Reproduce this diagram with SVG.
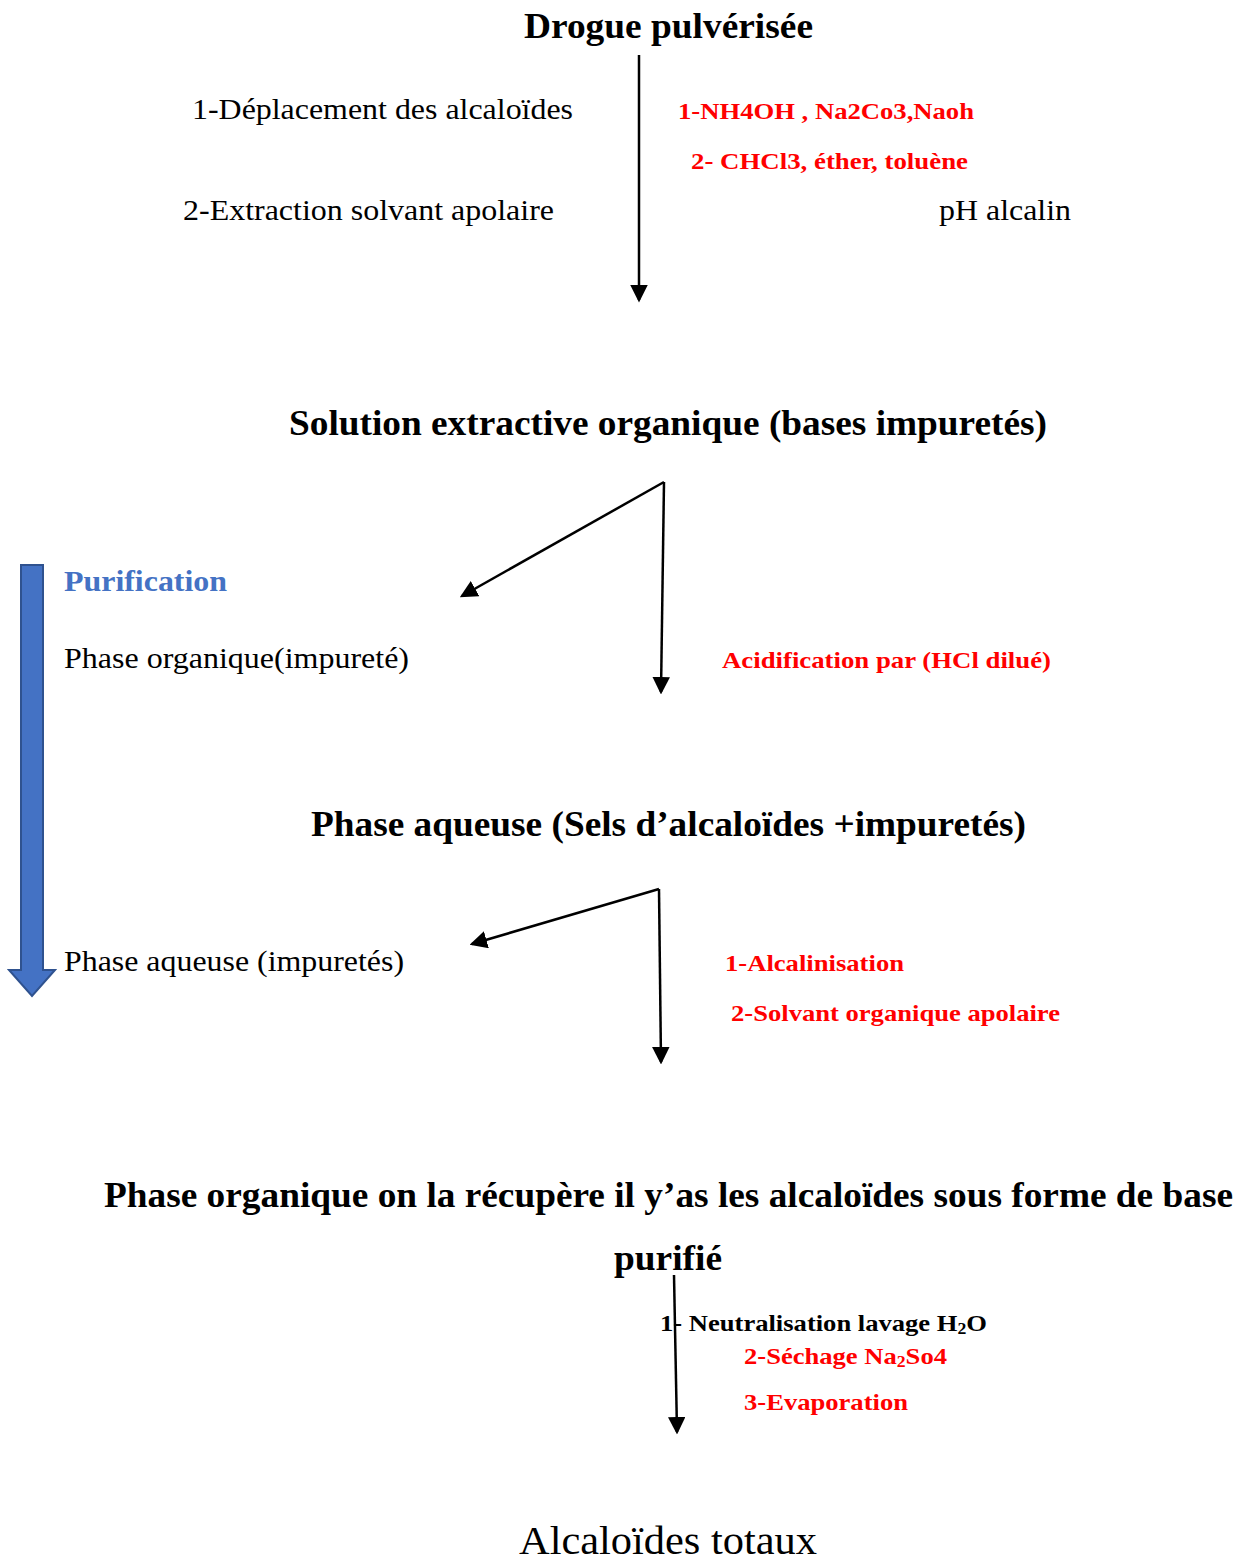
<svg xmlns="http://www.w3.org/2000/svg" width="1243" height="1560" viewBox="0 0 1243 1560">
<defs>
<style>
text{font-family:"Liberation Serif","Times New Roman",serif;}
.t{font-weight:bold;font-size:35px;fill:#000;}
.n{font-size:29px;fill:#000;}
.r{font-weight:bold;font-size:24px;fill:#ff0000;}
.k{font-weight:bold;font-size:24px;fill:#000;}
.ln{stroke:#000;stroke-width:2.5;fill:none;marker-end:url(#ah);}
</style>
<marker id="ah" markerWidth="7" markerHeight="7" refX="6" refY="3.5" orient="auto" markerUnits="strokeWidth">
<path d="M0,0 L7,3.5 L0,7 Z" fill="#000"/>
</marker>
</defs>
<rect width="1243" height="1560" fill="#fff"/>

<g id="n-drogue"><text class="t" x="524" y="38" textLength="289" lengthAdjust="spacingAndGlyphs">Drogue pulvérisée</text></g>
<g id="n-steps1">
<text class="n" x="192" y="119" textLength="381" lengthAdjust="spacingAndGlyphs">1-Déplacement des alcaloïdes</text>
<text class="n" x="183" y="220" textLength="371" lengthAdjust="spacingAndGlyphs">2-Extraction solvant apolaire</text>
<text class="n" x="939" y="220" textLength="132" lengthAdjust="spacingAndGlyphs">pH alcalin</text>
<text class="r" x="678" y="119" textLength="296" lengthAdjust="spacingAndGlyphs">1-NH4OH , Na2Co3,Naoh</text>
<text class="r" x="691" y="169" textLength="277" lengthAdjust="spacingAndGlyphs">2- CHCl3, éther, toluène</text>
</g>
<g id="n-solution"><text class="t" x="289" y="435" textLength="758" lengthAdjust="spacingAndGlyphs">Solution extractive organique (bases impuretés)</text></g>
<g id="n-purification">
<path d="M21,565 H43 V970 H55 L32,996 L9,970 H21 Z" fill="#4472C4" stroke="#2F528F" stroke-width="2"/>
<text x="64" y="591" font-weight="bold" font-size="30" fill="#4472C4" textLength="163" lengthAdjust="spacingAndGlyphs">Purification</text>
</g>
<g id="n-phaseorg"><text class="n" x="64" y="668" textLength="345" lengthAdjust="spacingAndGlyphs">Phase organique(impureté)</text></g>
<g id="n-acid"><text class="r" x="722" y="668" textLength="329" lengthAdjust="spacingAndGlyphs">Acidification par (HCl dilué)</text></g>
<g id="n-aqueuse"><text class="t" x="311" y="836" textLength="715" lengthAdjust="spacingAndGlyphs">Phase aqueuse (Sels d’alcaloïdes +impuretés)</text></g>
<g id="n-aqimp"><text class="n" x="64" y="971" textLength="340" lengthAdjust="spacingAndGlyphs">Phase aqueuse (impuretés)</text></g>
<g id="n-alcal">
<text class="r" x="725" y="971" textLength="179" lengthAdjust="spacingAndGlyphs">1-Alcalinisation</text>
<text class="r" x="731" y="1021" textLength="329" lengthAdjust="spacingAndGlyphs">2-Solvant organique apolaire</text>
</g>
<g id="n-orgfinal">
<text class="t" x="104" y="1207" textLength="1129" lengthAdjust="spacingAndGlyphs">Phase organique on la récupère il y’as les alcaloïdes sous forme de base</text>
<text class="t" x="614" y="1270" textLength="108" lengthAdjust="spacingAndGlyphs">purifié</text>
</g>
<g id="n-final-steps">
<text class="k" x="660" y="1331" textLength="327" lengthAdjust="spacingAndGlyphs">1- Neutralisation lavage H<tspan font-size="16" dy="3">2</tspan><tspan dy="-3">O</tspan></text>
<text class="r" x="744" y="1364" textLength="203" lengthAdjust="spacingAndGlyphs">2-Séchage Na<tspan font-size="16" dy="3">2</tspan><tspan dy="-3">So4</tspan></text>
<text class="r" x="744" y="1410" textLength="164" lengthAdjust="spacingAndGlyphs">3-Evaporation</text>
</g>
<g id="n-total"><text x="519" y="1554" font-size="40" fill="#000" textLength="298" lengthAdjust="spacingAndGlyphs">Alcaloïdes totaux</text></g>

<g id="connectors">
<line class="ln" x1="639" y1="55" x2="639" y2="300"/>
<line class="ln" x1="664" y1="482" x2="462" y2="596"/>
<line class="ln" x1="664" y1="482" x2="661" y2="692"/>
<line class="ln" x1="659" y1="889" x2="472" y2="944"/>
<line class="ln" x1="659" y1="889" x2="661" y2="1062"/>
<line class="ln" x1="674" y1="1275" x2="677" y2="1432"/>
</g>
</svg>
